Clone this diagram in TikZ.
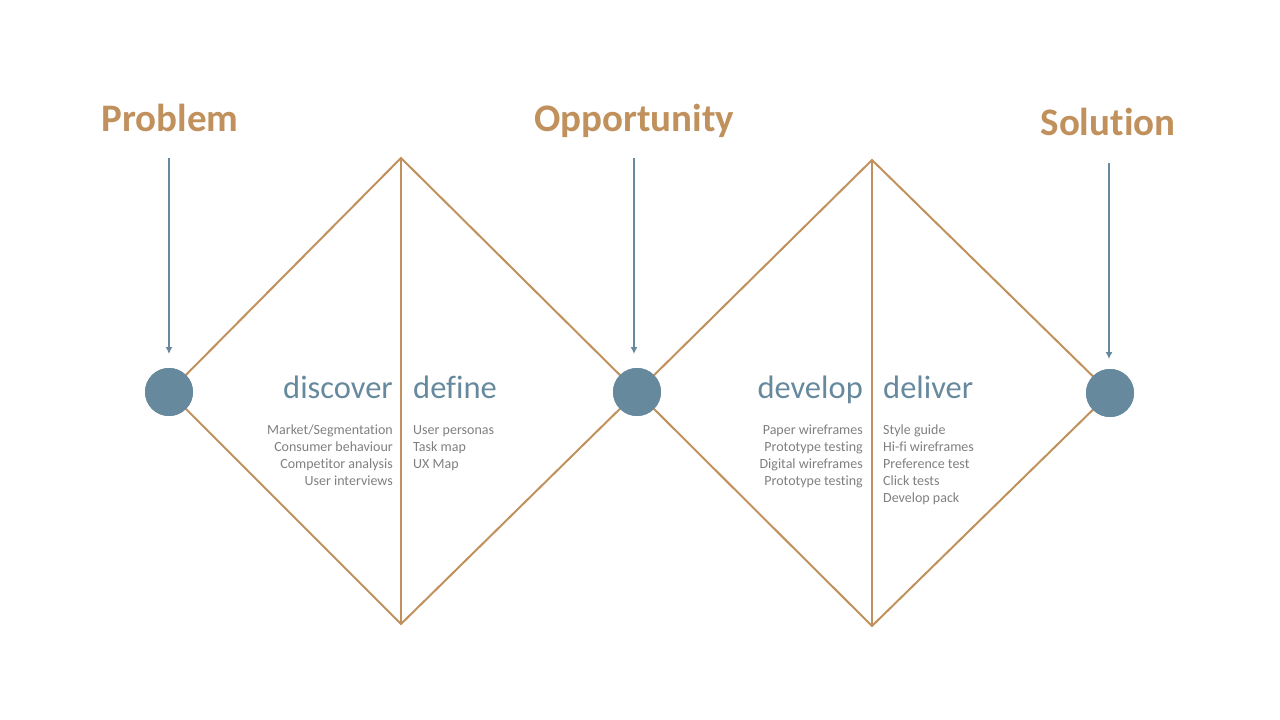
\documentclass[tikz,border=0pt]{standalone}
\usepackage{fontspec}
\setmainfont{Carlito}[Ligatures=NoCommon]
\usetikzlibrary{arrows.meta}
\definecolor{copper}{HTML}{C0915C}
\definecolor{slate}{HTML}{66899E}
\definecolor{listgray}{HTML}{7F7F7F}
\begin{document}
\begin{tikzpicture}[x=1pt,y=-1pt,
  edge/.style={copper,line width=2pt,line join=miter},
  hub/.style={circle,fill=slate,minimum size=48pt,inner sep=0pt},
  pointer/.style={slate,line width=1.2pt,-{Latex[length=7pt,width=7pt]}},
  heading/.style={copper,font=\bfseries\fontsize{39}{44}\selectfont,inner sep=0pt},
  phase/.style={slate,font=\fontsize{32.5}{38}\selectfont,inner sep=0pt},
  steps/.style={listgray,font=\fontsize{14}{17}\selectfont,inner sep=0pt}]
\useasboundingbox (0,0) rectangle (1280,720);

% diamond vertices
\coordinate (t1) at (401,158);
\coordinate (b1) at (401,624);
\coordinate (t2) at (872,160);
\coordinate (b2) at (872,626);

% hubs (placed first so the edges can be drawn between them)
\node[hub] (c1) at (169,392) {};
\node[hub] (c2) at (637,392) {};
\node[hub] (c3) at (1110,393) {};

% first diamond
\draw[edge] (c1.center) -- (t1) -- (c2.center) -- (b1) -- cycle;
\draw[edge] (t1) -- (b1);
% second diamond
\draw[edge] (c2.center) -- (t2) -- (c3.center) -- (b2) -- cycle;
\draw[edge] (t2) -- (b2);

% hubs again, on top of the lines
\node[hub] at (c1) {};
\node[hub] at (c2) {};
\node[hub] at (c3) {};

% headings and pointers
\node[heading] (h1) at (170,118) {Problem};
\node[heading] (h2) at (634,121) {Opportunity};
\node[heading] (h3) at (1108,122) {Solution};
\coordinate (p1) at (169,158);
\coordinate (p2) at (634,158);
\coordinate (p3) at (1109,163);
\draw[pointer] (p1) -- (169,354);
\draw[pointer] (p2) -- (634,354);
\draw[pointer] (p3) -- (1109,359);

% phase names
\node[phase,anchor=base east] (discover) at (393,398) {discover};
\node[phase,anchor=base west] (define) at (413,398) {define};
\node[phase,anchor=base east] (develop) at (863,398) {develop};
\node[phase,anchor=base west] (deliver) at (883,398) {deliver};

% activity lists (anchored on the baseline of their last line)
\node[steps,anchor=base east,align=right] (l1) at (393,485)
  {Market/Segmentation\\Consumer behaviour\\Competitor analysis\\User interviews};
\node[steps,anchor=base west,align=left] (l2) at (413,468)
  {User personas\\Task map\\UX Map};
\node[steps,anchor=base east,align=right] (l3) at (863,485)
  {Paper wireframes\\Prototype testing\\Digital wireframes\\Prototype testing};
\node[steps,anchor=base west,align=left] (l4) at (883,502)
  {Style guide\\Hi-fi wireframes\\Preference test\\Click tests\\Develop pack};
\end{tikzpicture}
\end{document}
